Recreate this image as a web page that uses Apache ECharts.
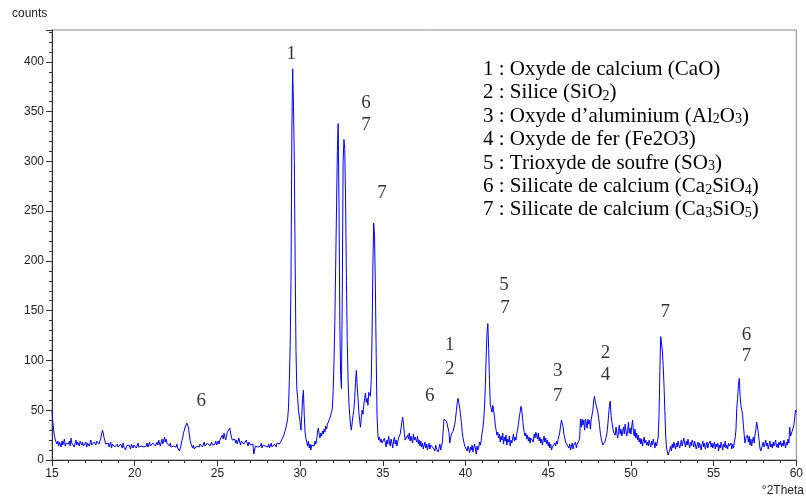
<!DOCTYPE html>
<html><head><meta charset="utf-8">
<script src="https://cdn.jsdelivr.net/npm/echarts@6/dist/echarts.min.js"></script>
<style>html,body{margin:0;padding:0;background:#fff}#c{width:806px;height:499px}</style>
</head><body><div id="c"></div>
<script>
// 2Theta sampling: each row = one degree, 20 samples every 0.05°
const thetaStart = 15;
const thetaStep = 0.05;
const countsByDegree = [
/*15*/[50,38,30,24,20,22,16,19,14,18,17,13,19,15,16,21,14,17,15,18],
/*16*/[16,19,14,22,17,15,18,13,17,20,15,18,16,14,19,17,15,18,14,16],
/*17*/[15,18,13,17,19,14,16,20,15,17,13,18,16,15,19,17,21,16,18,22],
/*18*/[24,30,27,22,19,16,18,14,17,13,15,18,12,16,14,17,13,15,12,16],
/*19*/[13,15,11,16,14,12,17,13,15,10,14,16,12,15,13,11,16,14,12,15],
/*20*/[13,16,12,14,17,13,11,15,14,12,16,13,15,12,14,17,13,15,18,14],
/*21*/[16,13,17,15,19,14,16,18,15,20,17,14,18,21,16,19,23,18,21,17],
/*22*/[19,16,14,17,13,15,11,14,12,15,13,16,12,14,9,12,15,19,22,27],
/*23*/[30,33,35,37,38,33,26,20,16,14,12,15,11,13,10,14,12,15,13,16],
/*24*/[14,17,13,15,18,14,16,13,17,15,19,14,16,18,15,17,14,16,19,15],
/*25*/[17,19,16,20,18,22,25,21,27,23,20,24,28,26,30,32,27,23,20,22],
/*26*/[19,21,17,20,16,19,22,18,15,19,17,21,16,18,15,20,17,14,18,16],
/*27*/[15,17,13,16,6,4,14,12,16,13,15,11,14,17,12,15,13,16,14,12],
/*28*/[15,13,16,12,14,17,13,15,12,16,14,13,17,15,18,16,14,19,17,21],
/*29*/[24,27,30,33,37,42,53,80,115,180,330,393,355,300,200,110,72,62,50,44],
/*30*/[38,30,45,62,70,45,28,22,18,14,19,12,16,10,15,13,17,14,19,16],
/*31*/[20,28,32,26,22,27,24,29,26,31,28,34,31,36,34,38,42,45,48,52],
/*32*/[70,100,140,195,250,310,338,260,140,85,72,170,300,322,312,260,180,120,80,58],
/*33*/[45,35,30,38,45,50,62,78,90,75,62,48,40,33,42,50,46,55,62,67],
/*34*/[58,62,55,68,70,64,80,125,195,238,225,175,105,45,25,20,23,18,21,17],
/*35*/[19,15,22,17,13,20,16,24,18,14,21,17,12,19,23,16,20,14,18,22],
/*36*/[20,26,32,38,43,36,27,20,22,18,25,21,27,19,24,22,17,26,20,23],
/*37*/[21,18,24,16,20,14,19,13,17,11,15,18,12,16,10,14,17,11,15,13],
/*38*/[16,12,14,9,15,11,13,8,12,16,10,14,18,18,41,40,42,39,41,40],
/*39*/[28,17,22,26,24,29,30,36,42,50,58,62,57,52,50,38,28,22,20,14],
/*40*/[12,16,9,14,11,7,13,10,15,8,12,16,11,6,14,10,13,18,15,20],
/*41*/[27,32,40,53,75,105,128,137,112,80,55,52,48,55,57,44,35,30,25,28],
/*42*/[22,26,18,24,20,27,16,23,19,25,15,21,18,24,14,20,17,22,26,19],
/*43*/[23,20,27,30,36,43,48,54,50,42,33,28,24,27,21,25,19,23,17,22],
/*44*/[20,24,18,26,22,28,25,21,27,19,23,17,21,15,20,24,18,22,16,20],
/*45*/[14,18,12,16,10,13,11,15,17,14,19,16,21,24,28,35,40,41,33,26],
/*46*/[22,18,20,15,17,12,16,10,14,17,11,15,13,18,12,16,14,19,22,41],
/*47*/[33,41,35,40,30,41,37,32,41,36,40,31,41,40,50,60,64,58,55,54],
/*48*/[48,42,35,27,22,18,15,13,16,19,23,27,35,45,55,59,45,38,33,28],
/*49*/[30,25,33,27,22,29,35,26,31,24,28,33,26,36,30,24,29,38,27,32],
/*50*/[26,34,40,29,24,31,22,27,20,25,18,22,16,21,14,19,23,17,20,15],
/*51*/[18,14,20,16,13,19,15,21,17,12,18,14,16,23,45,90,124,126,110,95],
/*52*/[75,50,25,13,8,5,3,10,14,9,16,12,18,14,11,17,13,19,15,12],
/*53*/[16,20,14,18,22,17,13,19,15,21,16,12,18,14,20,17,13,19,15,11],
/*54*/[15,18,12,17,14,10,16,19,13,17,11,15,18,12,16,14,19,13,17,12],
/*55*/[14,18,11,16,13,17,9,15,12,18,14,10,16,13,19,12,15,11,17,14],
/*56*/[13,17,11,16,12,18,22,30,52,62,75,82,65,55,50,46,35,25,17,22],
/*57*/[20,25,18,24,15,21,14,19,23,17,25,30,38,34,27,20,12,9,7,15],
/*58*/[18,13,16,20,14,17,11,15,19,13,16,12,18,14,17,20,13,16,12,18],
/*59*/[15,19,13,17,14,20,16,12,18,15,21,17,33,24,22,29,27,35,42,50]
];
const countsAt60 = 48;

// peak annotations (phase numbers)
const annotText = ['1','6','7','7','6','6','1','2','5','7','3','7','2','4','7','6','7'];
const annotTheta = [29.46,33.98,33.98,34.95,24.03,37.84,39.05,39.05,42.32,42.38,45.58,45.58,48.46,48.46,52.07,56.99,56.99];
const annotCounts = [408,359,337,268,59,64,116,91,176,153,89,64,107,85,149,126,104];

// phase legend lines (rich text, {s|..} = subscript)
const legendLines = [
  '1 : Oxyde de calcium (CaO)',
  '2 : Silice (SiO{s|2})',
  '3 : Oxyde d\u2019aluminium (Al{s|2}O{s|3})',
  '4 : Oxyde de fer (Fe2O3)',
  '5 : Trioxyde de soufre (SO{s|3})',
  '6 : Silicate de calcium (Ca{s|2}SiO{s|4})',
  '7 : Silicate de calcium (Ca{s|3}SiO{s|5})'
];

const xMin = 15, xMax = 60, xInterval = 5;
const yMin = 0, yMax = 432, yInterval = 50, yLabelMax = 400;

const lineData = [];
countsByDegree.forEach((row, k) => {
  row.forEach((v, j) => lineData.push([+(thetaStart + k + j * thetaStep).toFixed(2), v]));
});
lineData.push([60, countsAt60]);

const annotData = annotText.map((t, i) => ({name: t, value: [annotTheta[i], annotCounts[i]]}));

const chart = echarts.init(document.getElementById('c'), null, {renderer: 'canvas'});
const axisColor = '#333';
const labelFont = {color: '#222', fontFamily: 'Liberation Sans, Arial, sans-serif', fontSize: 12};

const graphics = legendLines.map((txt, i) => ({
  type: 'text', left: 483, top: 59 + i * 23.4, silent: true,
  style: {
    text: txt, fill: '#000',
    font: '21px "Liberation Serif", "Times New Roman", serif',
    rich: {
      s: {fontSize: 14, fontFamily: 'Liberation Serif', verticalAlign: 'bottom', fill: '#000', padding: [7, 0, 0, 0]}
    }
  }
}));
graphics.push({type: 'text', left: 12, top: 8, silent: true,
  style: {text: 'counts', fill: '#222', font: '12px "Liberation Sans", Arial, sans-serif'}});
graphics.push({type: 'text', right: 2, top: 485, silent: true,
  style: {text: '\u00b02Theta', fill: '#222', font: '12px "Liberation Sans", Arial, sans-serif'}});

chart.setOption({
  animation: false,
  backgroundColor: '#fff',
  grid: {left: 52, right: 8, top: 30, bottom: 39, show: true, borderColor: '#888', borderWidth: 1, containLabel: false},
  xAxis: {
    type: 'value', min: xMin, max: xMax, interval: xInterval,
    axisLine: {show: true, onZero: false, lineStyle: {color: axisColor, width: 1}},
    axisTick: {show: true, inside: false, length: 6, lineStyle: {color: axisColor}},
    minorTick: {show: true, splitNumber: 5, length: 3, lineStyle: {color: axisColor}},
    axisLabel: Object.assign({margin: 8}, labelFont),
    splitLine: {show: false}
  },
  yAxis: {
    type: 'value', min: yMin, max: yMax, interval: yInterval,
    axisLine: {show: true, onZero: false, lineStyle: {color: axisColor, width: 1}},
    axisTick: {show: true, inside: false, length: 6, lineStyle: {color: axisColor}},
    minorTick: {show: true, splitNumber: 5, length: 3, lineStyle: {color: axisColor}},
    axisLabel: Object.assign({margin: 8, formatter: v => (v > yLabelMax ? '' : String(v))}, labelFont),
    splitLine: {show: false}
  },
  series: [
    {
      type: 'line', data: lineData, showSymbol: false, symbol: 'none', sampling: null,
      lineStyle: {color: '#0000ff', width: 1}, silent: true, z: 2
    },
    {
      type: 'scatter', data: annotData, symbolSize: 0, silent: true, z: 3,
      label: {show: true, position: 'inside', formatter: p => p.name, color: '#000',
        fontFamily: 'Liberation Serif, Times New Roman, serif', fontSize: 19}
    }
  ],
  graphic: graphics
});
</script></body></html>
